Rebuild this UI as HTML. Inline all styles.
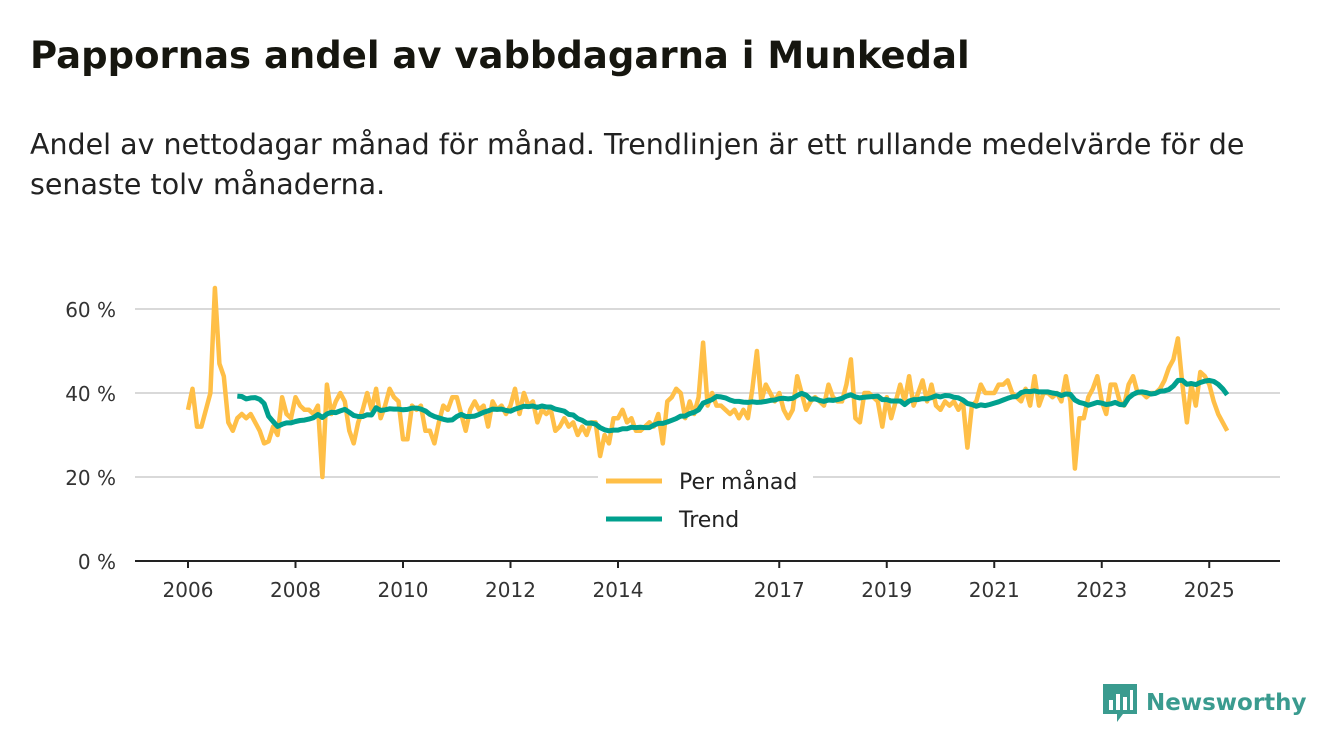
<!DOCTYPE html>
<html><head><meta charset="utf-8"><style>
body{margin:0;background:#fff;width:1340px;height:753px;overflow:hidden;font-family:"DejaVu Sans","Liberation Sans",sans-serif;color:#111}
h1{position:absolute;left:30px;top:34px;margin:0;font-size:37px;font-weight:bold;color:#16160f;white-space:nowrap}
.sub{position:absolute;left:30px;top:125px;margin:0;font-size:28.5px;line-height:40px;color:#222;width:1260px}
svg{position:absolute;left:0;top:0}
svg text{font-family:"DejaVu Sans","Liberation Sans",sans-serif}
</style></head><body>
<h1>Pappornas andel av vabbdagarna i Munkedal</h1>
<p class="sub">Andel av nettodagar månad för månad. Trendlinjen är ett rullande medelvärde för de senaste tolv månaderna.</p>
<svg id="chart" width="1340" height="753"></svg>
<script>
const startYear=2006;
const monthly=[
36,41,32,32,36,40,65,47,44,33,31,34,
35,34,35,33,31,28,28.5,32,30,39,35,34,
39,37,36,36,35,37,20,42,35,38,40,38,
31,28,33,36,40,36,41,34,37,41,39,38,
29,29,37,36,37,31,31,28,33,37,36,39,
39,35,31,36,38,36,37,32,38,36,37,35,
37,41,35,40,37,38,33,36,35,36,31,32,
34,32,33,30,32,30,33,33,25,30,28,34,
34,36,33,34,31,31,32,33,32,35,28,38,
39,41,40,34,38,35,39,52,37,40,37,37,
36,35,36,34,36,34,41,50,38,42,40,38,
40,36,34,36,44,40,36,38,39,38,37,42,
39,38,38,42,48,34,33,40,40,39,38,32,
39,34,38,42,38,44,37,40,43,38,42,37,
36,38,37,38,36,38,27,37,38,42,40,40,
40,42,42,43,40,39,38,41,37,44,37,40,
40,39,40,38,44,38,22,34,34,39,41,44,
38,35,42,42,38,37,42,44,40,40,39,40,
40,41,43,46,48,53,42,33,42,37,45,44,
42,38,35,33,31];
const yTicks=[0,20,40,60];
const xTickYears=[2006,2008,2010,2012,2014,2017,2019,2021,2023,2025];
const NS='http://www.w3.org/2000/svg';
const svg=document.getElementById('chart');
const x=t=>188+(t-startYear)*53.75;
const xm=i=>x(startYear+i/12);
const y=v=>561-v*4.2;
function mk(tag,attrs){const e=document.createElementNS(NS,tag);for(const k in attrs)e.setAttribute(k,attrs[k]);svg.appendChild(e);return e;}
yTicks.forEach(v=>{
  if(v>0){const g=mk('line',{x1:135,x2:1280,y1:y(v),y2:y(v),stroke:'#d9d9d9','stroke-width':2});
  
  }
  const t=mk('text',{x:116,y:y(v)+8,'text-anchor':'end','font-size':20,fill:'#333'});
  t.textContent=v+' %';
  
  
});
const ax=mk('line',{x1:135,x2:1280,y1:561,y2:561,stroke:'#222','stroke-width':2});


xTickYears.forEach(yr=>{
  const tk=mk('line',{x1:x(yr),x2:x(yr),y1:561,y2:568,stroke:'#222','stroke-width':2});
  
  
  const t=mk('text',{x:x(yr),y:597,'text-anchor':'middle','font-size':20,fill:'#333'});
  t.textContent=yr;
  
  
});
const lb=mk('rect',{x:598,y:462,width:215,height:78,fill:'#fff'});


const p1=monthly.map((v,i)=>(i?'L':'M')+xm(i).toFixed(1)+' '+y(v).toFixed(1)).join(' ');
const l1=mk('path',{d:p1,fill:'none',stroke:'#ffbf47','stroke-width':4.5,'stroke-linejoin':'round'});


const trend=[];
for(let i=11;i<monthly.length;i++){let s=0;for(let j=i-11;j<=i;j++)s+=monthly[j];trend.push([i,s/12]);}
const p2=trend.map((p,k)=>(k?'L':'M')+xm(p[0]).toFixed(1)+' '+y(p[1]).toFixed(1)).join(' ');
const l2=mk('path',{d:p2,fill:'none',stroke:'#00a08e','stroke-width':5,'stroke-linejoin':'round'});


[['Per månad','#ffbf47',481],['Trend','#00a08e',519]].forEach(([lab,c,yy])=>{
  const s=mk('line',{x1:606,x2:662,y1:yy,y2:yy,stroke:c,'stroke-width':5});
  
  
  const t=mk('text',{x:679,y:yy+8,'font-size':22,fill:'#222'});
  t.textContent=lab;
  
  
});
</script>
<div style="position:absolute;left:1103px;top:684px;display:flex;align-items:center">
<svg width="34" height="38" viewBox="0 0 34 38" style="position:static"><path d="M0 0H34V30H20L14 38V30H0Z" fill="#3a9b8f"/><rect x="6" y="16" width="4" height="10" fill="#fff"/><rect x="13" y="10" width="4" height="16" fill="#fff"/><rect x="20" y="13" width="4" height="13" fill="#fff"/><rect x="27" y="6" width="3" height="20" fill="#fff"/></svg>
<span style="font-size:23px;font-weight:bold;color:#3a9b8f;margin-left:9px">Newsworthy</span></div>
</body></html>
